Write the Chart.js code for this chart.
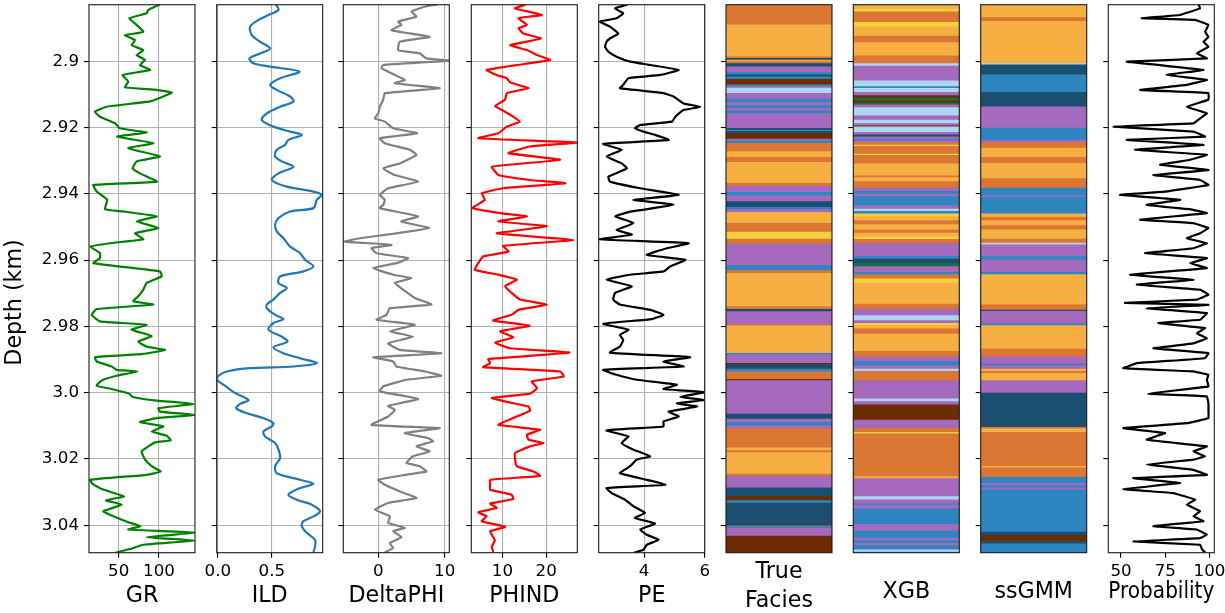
<!DOCTYPE html>
<html lang="en">
<head>
<meta charset="utf-8">
<title>well logs and facies</title>
<script src="https://cdn.jsdelivr.net/npm/chart.js@4.4.0/dist/chart.umd.min.js"></script>
<style>
body { margin: 0; background: #fff; }
#wrap { position: relative; width: 1225px; height: 613px; overflow: hidden; }
#wrap canvas { position: absolute; top: 0; }
</style>
</head>
<body>
<div id="wrap"></div>
<script>
// depth axis (km)
const depthMin = 2.8829, depthMax = 3.0483;
const depthTicks = [2.90, 2.92, 2.94, 2.96, 2.98, 3.00, 3.02, 3.04];
const depthTickLabels = ['2.9', '2.92', '2.94', '2.96', '2.98', '3.0', '3.02', '3.04'];
const depthTitle = 'Depth (km)';

// log curves: [depth, value]
const grLog = [[2.8829,100.5],[2.8845,86.8],[2.8855,84.7],[2.8870,63.2],[2.8890,72.3],[2.8911,80.6],[2.8921,57.9],[2.8936,70.3],[2.8951,66.1],[2.8966,80.6],[2.8981,72.3],[2.8996,82.7],[2.9011,76.5],[2.9026,88.9],[2.9041,55.0],[2.9061,62.0],[2.9078,57.9],[2.9086,97.2],[2.9094,115.8],[2.9106,105.4],[2.9121,88.9],[2.9137,35.1],[2.9152,20.6],[2.9167,26.8],[2.9187,45.5],[2.9202,51.7],[2.9215,84.7],[2.9227,48.3],[2.9247,93.0],[2.9262,62.0],[2.9287,101.3],[2.9302,72.3],[2.9323,67.4],[2.9338,76.5],[2.9363,97.2],[2.9373,18.6],[2.9393,22.7],[2.9418,35.9],[2.9446,33.0],[2.9453,55.8],[2.9468,97.2],[2.9483,72.3],[2.9503,99.2],[2.9519,70.3],[2.9537,80.6],[2.9549,39.2],[2.9559,15.3],[2.9579,26.8],[2.9594,26.8],[2.9609,18.6],[2.9634,101.3],[2.9649,103.4],[2.9669,84.7],[2.9689,80.6],[2.9709,74.4],[2.9724,68.2],[2.9734,93.0],[2.9748,22.7],[2.9765,16.5],[2.9785,26.8],[2.9795,84.7],[2.9810,66.1],[2.9829,90.9],[2.9846,74.4],[2.9861,84.7],[2.9871,107.5],[2.9883,80.6],[2.9893,20.6],[2.9906,22.7],[2.9921,41.3],[2.9931,47.5],[2.9936,73.2],[2.9949,47.5],[2.9963,28.9],[2.9979,22.7],[2.9989,41.3],[3.0003,63.2],[3.0013,67.4],[3.0024,97.2],[3.0034,142.6],[3.0047,99.2],[3.0057,101.3],[3.0067,144.7],[3.0077,97.2],[3.0089,76.5],[3.0102,105.4],[3.0117,90.9],[3.0130,109.6],[3.0144,114.5],[3.0150,95.1],[3.0177,78.5],[3.0202,82.7],[3.0222,90.9],[3.0238,102.1],[3.0248,84.7],[3.0263,14.4],[3.0275,17.7],[3.0291,28.9],[3.0313,56.6],[3.0325,34.3],[3.0338,53.7],[3.0358,31.0],[3.0373,43.4],[3.0391,62.0],[3.0403,77.3],[3.0413,62.0],[3.0423,144.7],[3.0436,84.7],[3.0446,144.7],[3.0459,80.6],[3.0472,64.1],[3.0482,47.5]];

const ildLog = [[2.8829,0.540],[2.8845,0.562],[2.8860,0.469],[2.8875,0.377],[2.8895,0.299],[2.8921,0.315],[2.8941,0.392],[2.8961,0.485],[2.8976,0.392],[2.8991,0.293],[2.9006,0.330],[2.9016,0.485],[2.9031,0.756],[2.9051,0.577],[2.9071,0.485],[2.9086,0.546],[2.9106,0.670],[2.9121,0.701],[2.9137,0.577],[2.9157,0.454],[2.9177,0.407],[2.9197,0.515],[2.9212,0.670],[2.9222,0.778],[2.9237,0.654],[2.9252,0.623],[2.9267,0.546],[2.9287,0.531],[2.9302,0.593],[2.9318,0.701],[2.9338,0.562],[2.9358,0.500],[2.9378,0.639],[2.9393,0.886],[2.9403,0.963],[2.9418,0.917],[2.9443,0.886],[2.9453,0.670],[2.9473,0.562],[2.9493,0.531],[2.9513,0.546],[2.9534,0.608],[2.9559,0.670],[2.9579,0.762],[2.9599,0.809],[2.9619,0.886],[2.9634,0.793],[2.9649,0.577],[2.9669,0.562],[2.9684,0.639],[2.9699,0.577],[2.9719,0.515],[2.9734,0.454],[2.9745,0.454],[2.9765,0.531],[2.9778,0.608],[2.9790,0.515],[2.9810,0.469],[2.9831,0.593],[2.9846,0.645],[2.9863,0.515],[2.9881,0.608],[2.9896,0.762],[2.9911,0.917],[2.9921,0.701],[2.9926,0.299],[2.9936,0.083],[2.9949,0.006],[2.9961,-0.009],[2.9976,0.052],[2.9989,0.108],[3.0001,0.160],[3.0022,0.284],[3.0034,0.207],[3.0047,0.170],[3.0062,0.269],[3.0077,0.423],[3.0092,0.515],[3.0102,0.500],[3.0117,0.423],[3.0132,0.438],[3.0152,0.531],[3.0172,0.562],[3.0197,0.577],[3.0222,0.531],[3.0243,0.546],[3.0263,0.762],[3.0275,0.886],[3.0288,0.762],[3.0308,0.654],[3.0323,0.731],[3.0338,0.870],[3.0358,0.948],[3.0371,0.901],[3.0388,0.793],[3.0403,0.778],[3.0423,0.824],[3.0444,0.901],[3.0464,0.901],[3.0482,0.886]];

const dphiLog = [[2.8829,8.75],[2.8835,7.0],[2.8850,5.0],[2.8865,5.75],[2.8880,3.0],[2.8890,3.5],[2.8906,2.0],[2.8926,7.75],[2.8941,3.25],[2.8966,3.0],[2.8976,6.25],[2.8991,7.25],[2.8998,10.65],[2.9011,0.75],[2.9021,0.5],[2.9036,2.0],[2.9056,4.0],[2.9066,2.5],[2.9081,9.25],[2.9096,1.0],[2.9116,0.75],[2.9137,0.25],[2.9157,0],[2.9172,-0.5],[2.9182,1.0],[2.9202,2.25],[2.9217,5.85],[2.9232,0.25],[2.9247,1.0],[2.9267,4.75],[2.9282,5.75],[2.9308,3.25],[2.9323,0.75],[2.9343,2.5],[2.9363,6.0],[2.9383,1.5],[2.9403,0.25],[2.9418,1.0],[2.9433,0.75],[2.9443,0.25],[2.9468,6.0],[2.9483,3.5],[2.9503,7.65],[2.9519,2.75],[2.9534,-2.75],[2.9544,-5.0],[2.9554,2.0],[2.9564,-1.0],[2.9579,-0.25],[2.9594,4.5],[2.9609,2.75],[2.9624,-0.75],[2.9644,2.25],[2.9654,5.0],[2.9669,2.5],[2.9689,3.75],[2.9714,5.5],[2.9734,8.0],[2.9745,1.75],[2.9765,1.25],[2.9780,-0.25],[2.9795,5.5],[2.9815,1.75],[2.9831,5.25],[2.9851,1.5],[2.9871,3.25],[2.9881,9.5],[2.9893,-0.75],[2.9906,2.25],[2.9921,2.75],[2.9936,7.0],[2.9949,9.5],[2.9961,4.25],[2.9981,0.75],[2.9996,0.25],[3.0019,6.0],[3.0040,1.5],[3.0052,2.5],[3.0072,1.5],[3.0097,-1.0],[3.0107,9.25],[3.0122,4.0],[3.0137,7.5],[3.0147,8.25],[3.0162,5.75],[3.0177,7.75],[3.0192,5.25],[3.0212,4.25],[3.0222,6.25],[3.0238,7.25],[3.0248,4.0],[3.0263,0],[3.0278,1.0],[3.0298,3.25],[3.0318,5.75],[3.0333,1.5],[3.0353,-0.5],[3.0373,1.75],[3.0393,1.5],[3.0408,4.0],[3.0418,2.25],[3.0436,3.5],[3.0454,1.75],[3.0469,2.25],[3.0482,1.0]];

const phindLog = [[2.8829,15.2],[2.8840,12.9],[2.8860,19.0],[2.8870,13.7],[2.8890,15.6],[2.8900,13.7],[2.8916,14.8],[2.8931,18.8],[2.8951,11.8],[2.8966,15.6],[2.8981,17.9],[2.8996,20.9],[2.9011,13.3],[2.9026,6.4],[2.9041,8.7],[2.9051,11.0],[2.9064,11.8],[2.9081,16.0],[2.9096,11.0],[2.9116,10.6],[2.9135,8.3],[2.9152,10.6],[2.9167,12.5],[2.9182,14.0],[2.9197,11.0],[2.9217,9.1],[2.9232,4.5],[2.9245,27.0],[2.9257,16.3],[2.9277,11.4],[2.9297,23.2],[2.9318,7.6],[2.9343,9.1],[2.9358,16.3],[2.9368,24.4],[2.9383,10.2],[2.9398,5.3],[2.9418,6.0],[2.9443,3.2],[2.9458,9.5],[2.9468,15.6],[2.9483,9.1],[2.9498,20.2],[2.9519,8.7],[2.9539,26.1],[2.9557,10.2],[2.9574,11.4],[2.9589,5.6],[2.9609,4.5],[2.9629,3.7],[2.9644,9.1],[2.9659,13.3],[2.9679,10.6],[2.9699,12.1],[2.9719,14.0],[2.9734,20.2],[2.9750,13.7],[2.9765,12.1],[2.9782,7.9],[2.9798,16.2],[2.9815,9.5],[2.9833,12.5],[2.9849,8.3],[2.9866,11.8],[2.9879,25.3],[2.9899,6.8],[2.9911,7.2],[2.9923,5.6],[2.9936,23.2],[2.9951,24.0],[2.9966,16.7],[2.9986,17.9],[3.0003,16.3],[3.0016,7.6],[3.0032,12.5],[3.0042,16.0],[3.0054,16.3],[3.0074,12.9],[3.0097,9.1],[3.0112,18.6],[3.0127,15.6],[3.0142,16.0],[3.0152,19.4],[3.0162,16.3],[3.0182,12.9],[3.0202,12.9],[3.0222,13.3],[3.0238,17.1],[3.0251,18.6],[3.0263,7.2],[3.0278,7.2],[3.0293,7.2],[3.0308,12.1],[3.0321,12.5],[3.0335,7.2],[3.0348,8.7],[3.0361,4.5],[3.0373,6.4],[3.0388,5.3],[3.0405,10.6],[3.0418,7.2],[3.0436,7.9],[3.0446,8.3],[3.0464,7.6],[3.0482,7.9]];

const peLog = [[2.8829,3.43],[2.8840,3.04],[2.8855,3.31],[2.8870,3.09],[2.8880,2.54],[2.8895,2.87],[2.8916,3.15],[2.8931,2.87],[2.8941,2.76],[2.8956,2.71],[2.8971,2.82],[2.8986,3.09],[2.9001,3.54],[2.9011,4.20],[2.9026,5.14],[2.9041,4.53],[2.9051,3.48],[2.9071,3.31],[2.9081,3.20],[2.9096,4.64],[2.9106,4.97],[2.9127,5.30],[2.9137,5.86],[2.9147,5.30],[2.9167,5.03],[2.9182,4.92],[2.9192,3.87],[2.9202,3.70],[2.9212,3.98],[2.9222,4.36],[2.9237,4.81],[2.9249,2.65],[2.9267,3.26],[2.9287,2.76],[2.9308,3.26],[2.9323,3.43],[2.9348,2.82],[2.9363,2.87],[2.9383,3.87],[2.9403,5.14],[2.9418,3.65],[2.9433,4.97],[2.9453,3.59],[2.9468,3.04],[2.9488,3.65],[2.9509,3.09],[2.9523,3.59],[2.9537,2.54],[2.9549,5.47],[2.9564,4.75],[2.9584,4.09],[2.9599,5.36],[2.9619,4.86],[2.9634,4.64],[2.9644,3.54],[2.9659,2.76],[2.9679,3.59],[2.9699,3.04],[2.9719,2.98],[2.9734,3.20],[2.9750,4.20],[2.9765,4.64],[2.9778,4.25],[2.9792,2.65],[2.9810,3.48],[2.9826,3.20],[2.9841,3.31],[2.9861,3.20],[2.9879,2.87],[2.9893,5.52],[2.9906,4.64],[2.9921,5.30],[2.9931,2.65],[2.9946,3.09],[2.9961,3.76],[2.9976,5.08],[2.9989,4.64],[2.9999,5.97],[3.0013,5.19],[3.0022,6.0],[3.0032,5.08],[3.0042,5.75],[3.0057,4.81],[3.0072,5.14],[3.0087,4.64],[3.0102,4.64],[3.0114,2.76],[3.0132,3.48],[3.0152,3.26],[3.0172,3.65],[3.0192,4.20],[3.0202,3.76],[3.0222,3.54],[3.0243,3.20],[3.0263,4.09],[3.0278,4.70],[3.0288,2.76],[3.0303,2.93],[3.0323,3.37],[3.0343,3.65],[3.0363,4.03],[3.0378,3.70],[3.0395,4.36],[3.0413,3.87],[3.0429,4.09],[3.0444,4.48],[3.0459,4.09],[3.0474,3.98],[3.0482,3.70]];

const probLog = [[2.8829,93.8],[2.8840,94.7],[2.8860,83.4],[2.8870,61.7],[2.8875,91.9],[2.8890,99.4],[2.8911,97.5],[2.8926,99.4],[2.8941,96.6],[2.8956,99.4],[2.8976,92.8],[2.8991,98.5],[2.9001,53.2],[2.9016,79.6],[2.9026,96.6],[2.9041,75.8],[2.9056,98.5],[2.9071,87.2],[2.9086,60.8],[2.9096,99.4],[2.9116,99.4],[2.9137,87.2],[2.9157,98.5],[2.9172,94.7],[2.9187,90.9],[2.9197,45.7],[2.9212,90.9],[2.9227,97.5],[2.9237,53.2],[2.9252,96.6],[2.9267,57.9],[2.9282,98.5],[2.9297,89.1],[2.9312,72.1],[2.9328,99.4],[2.9343,68.3],[2.9358,94.7],[2.9373,99.4],[2.9393,74.9],[2.9403,49.4],[2.9418,83.4],[2.9433,64.5],[2.9448,90.9],[2.9458,98.5],[2.9478,60.8],[2.9488,90.9],[2.9503,99.4],[2.9519,94.7],[2.9534,87.2],[2.9549,98.5],[2.9564,90.9],[2.9579,63.6],[2.9594,98.5],[2.9609,89.1],[2.9624,98.5],[2.9644,55.1],[2.9659,90.9],[2.9674,58.9],[2.9689,94.7],[2.9704,99.4],[2.9719,92.8],[2.9729,52.3],[2.9735,99.4],[2.9745,64.5],[2.9760,98.5],[2.9780,94.7],[2.9790,71.1],[2.9805,97.5],[2.9821,92.8],[2.9836,98.5],[2.9851,90.9],[2.9866,68.3],[2.9881,99.4],[2.9896,97.5],[2.9911,58.9],[2.9926,51.3],[2.9936,90.9],[2.9946,99.4],[2.9961,98.5],[2.9981,99.4],[3.0003,65.5],[3.0011,98.5],[3.0032,99.4],[3.0052,99.4],[3.0077,99.4],[3.0092,87.2],[3.0107,51.3],[3.0122,74.9],[3.0142,64.5],[3.0162,98.5],[3.0177,90.9],[3.0192,97.5],[3.0202,90.9],[3.0217,64.5],[3.0233,90.9],[3.0248,98.5],[3.0258,56.9],[3.0273,83.4],[3.0291,51.3],[3.0303,79.6],[3.0323,91.9],[3.0338,87.2],[3.0358,94.7],[3.0373,90.9],[3.0388,96.6],[3.0403,68.3],[3.0413,92.8],[3.0429,98.5],[3.0439,94.7],[3.0449,56.9],[3.0459,94.7],[3.0472,95.7],[3.0482,97.5]];

// facies: 1 SS, 2 CSiS, 3 FSiS, 4 SiSh, 5 MS, 6 WS, 7 D, 8 PS, 9 BS
const faciesColors = ['#F4D03F', '#F5B041', '#DC7633', '#6E2C00', '#1B4F72', '#2E86C1', '#AED6F1', '#A569BD', '#196F3D'];

// band tops (km) and facies code of each band
const trueTop = [2.8829,2.8887,2.8984,2.8988,2.8994,2.8998,2.9004,2.9014,2.9031,2.9038,2.9044,2.9052,2.9068,2.9074,2.9078,2.9094,2.9111,2.9122,2.9132,2.9139,2.9147,2.9155,2.9200,2.9205,2.9209,2.9215,2.9232,2.9237,2.9245,2.9270,2.9287,2.9302,2.9366,2.9374,2.9393,2.9403,2.9421,2.9438,2.9445,2.9453,2.9486,2.9513,2.9534,2.9549,2.9614,2.9629,2.9637,2.9738,2.9746,2.9753,2.9792,2.9796,2.9879,2.9883,2.9909,2.9913,2.9926,2.9934,2.9957,2.9961,3.0062,3.0077,3.0087,3.0097,3.0105,3.0164,3.0172,3.0178,3.0243,3.0249,3.0285,3.0311,3.0323,3.0331,3.0395,3.0399,3.0406,3.0430];
const trueCode = [3,2,3,5,2,3,5,8,6,5, 6,4,6,8,7,8,6,8,6,8, 6,8,5,6,5,4,8,6,3,2, 3,2,3,8,6,8,5,6,8,2, 3,1,3,8,6,3,2,3,5,8, 3,2,6,8,4,5,6,3,4,8, 5,8,6,8,3,2,3,2,3,8, 5,4,6,5,4,6,8,4];

const xgbTop = [2.8829,2.8840,2.8848,2.8880,2.8893,2.8921,2.8941,2.8981,2.9004,2.9012,2.9056,2.9074,2.9079,2.9091,2.9101,2.9108,2.9117,2.9123,2.9129,2.9137,2.9162,2.9175,2.9185,2.9192,2.9195,2.9212,2.9219,2.9225,2.9233,2.9237,2.9242,2.9250,2.9254,2.9277,2.9281,2.9307,2.9343,2.9348,2.9360,2.9380,2.9390,2.9398,2.9406,2.9433,2.9443,2.9450,2.9458,2.9466,2.9478,2.9490,2.9506,2.9516,2.9527,2.9535,2.9547,2.9587,2.9594,2.9607,2.9617,2.9634,2.9641,2.9654,2.9667,2.9730,2.9745,2.9765,2.9780,2.9788,2.9795,2.9805,2.9821,2.9873,2.9889,2.9904,2.9916,2.9926,2.9933,2.9961,3.0016,3.0024,3.0034,3.0080,3.0104,3.0117,3.0122,3.0251,3.0257,3.0311,3.0321,3.0333,3.0337,3.0348,3.0395,3.0415,3.0436,3.0444,3.0452,3.0459,3.0472,3.0479];
const xgbCode = [2,1,3,1,2,3,2,3,7,8, 7,6,7,8,4,9,4,9,8,7, 8,7,8,4,7,8,5,8,6,8, 3,1,3,1,3,2,3,2,3,8, 6,8,6,8,7,6,1,2,3,2, 3,2,1,3,8,6,5,9,8,6, 3,1,2,3,8,7,8,1,2,3, 2,3,8,6,8,7,3,8,7,8, 4,8,3,1,3,2,8,7,8,6, 8,6,8,6,8,6,8,6,7,6];

const gmmTop = [2.8829,2.8865,2.8877,2.9004,2.9008,2.9038,2.9091,2.9135,2.9199,2.9235,2.9242,2.9259,2.9287,2.9305,2.9351,2.9380,2.9403,2.9408,2.9458,2.9468,2.9478,2.9493,2.9506,2.9534,2.9546,2.9551,2.9587,2.9597,2.9634,2.9641,2.9732,2.9748,2.9752,2.9790,2.9795,2.9866,2.9889,2.9911,2.9916,2.9926,2.9933,2.9939,2.9961,2.9999,3.0102,3.0107,3.0117,3.0220,3.0224,3.0253,3.0271,3.0278,3.0285,3.0291,3.0418,3.0429,3.0446,3.0454];
const gmmCode = [2,3,2,7,5,6,5,8,6,8, 3,2,3,2,3,6,8,6,2,3, 2,3,2,3,7,8,6,8,6,2, 3,5,8,6,2,3,8,6,8,2, 3,2,8,5,3,2,3,2,3,6, 8,6,8,6,5,4,5,6];

// layout of the nine tracks (px)
const panelLeft = [89, 216.7, 343.3, 471.3, 598.7, 726, 853.3, 980.7, 1108.3];
const panelWidth = 106, plotTop = 4.7, plotBottom = 552.7, canvasH = 640;
const tickSize = 16.7, titleSize = 22.2;
const gridColor = '#b0b0b0';

Chart.defaults.font.family = "'DejaVu Sans', sans-serif";
Chart.defaults.color = '#000';

const frame = {
  id: 'frame',
  afterDraw(chart) {
    const a = chart.chartArea, ctx = chart.ctx;
    ctx.save();
    ctx.strokeStyle = '#1a1a1a';
    ctx.lineWidth = 1.1;
    ctx.strokeRect(a.left, a.top, a.right - a.left, a.bottom - a.top);
    ctx.restore();
  }
};

const depthLabel = {
  id: 'depthLabel',
  afterDraw(chart) {
    const ctx = chart.ctx;
    ctx.save();
    ctx.translate(15.5, 302.5);
    ctx.rotate(-Math.PI / 2);
    ctx.font = titleSize + "px 'DejaVu Sans'";
    ctx.fillStyle = '#000';
    ctx.textAlign = 'center';
    ctx.textBaseline = 'middle';
    ctx.fillText(depthTitle, 0, 0);
    ctx.restore();
  }
};

const wrap = document.getElementById('wrap');

function makeCanvas(i) {
  const left = i === 0 ? 0 : Math.floor(panelLeft[i]) - 24;
  const L = panelLeft[i] - left;
  const w = Math.ceil(L + panelWidth + 30);
  const c = document.createElement('canvas');
  c.width = w; c.height = canvasH;
  c.style.left = left + 'px';
  c.style.width = w + 'px';
  c.style.height = canvasH + 'px';
  wrap.appendChild(c);
  return { c, L, R: w - L - panelWidth };
}

function yAxis(L, showLabels, gridOn) {
  return {
    type: 'linear', reverse: true, min: depthMin, max: depthMax,
    afterBuildTicks: s => { s.ticks = depthTicks.map(v => ({ value: v })); },
    afterFit: s => { s.width = L; s.paddingTop = 0; s.paddingBottom = 0; },
    ticks: { display: showLabels, font: { size: tickSize }, padding: 5, callback: (v, k) => depthTickLabels[k] },
    grid: { drawOnChartArea: gridOn, color: gridColor, lineWidth: 1.1, tickLength: 5, tickColor: '#000', tickWidth: 1.1 },
    border: { display: false }
  };
}

function xTitle(text, pad, lh) {
  return { display: true, text: text, color: '#000', font: { size: titleSize, lineHeight: lh || 1.2 }, padding: { top: 0, bottom: pad } };
}

function logPanel(i, log, color, opt) {
  const { c, L, R } = makeCanvas(i);
  new Chart(c, {
    type: 'scatter',
    data: {
      datasets: [{
        data: log.map(p => ({ x: p[1], y: p[0] })),
        showLine: true, borderColor: color, borderWidth: 2.2,
        pointRadius: 0, pointHoverRadius: 0, tension: opt.tension || 0.12,
        borderJoinStyle: 'round', borderCapStyle: 'round'
      }]
    },
    options: {
      responsive: false, animation: false, events: [],
      layout: { padding: { top: plotTop, right: R, bottom: 0, left: 0 } },
      plugins: { legend: { display: false }, tooltip: { enabled: false } },
      scales: {
        x: {
          type: 'linear', min: opt.min, max: opt.max,
          afterBuildTicks: s => { s.ticks = opt.ticks.map(v => ({ value: v })); },
          afterFit: s => { s.height = canvasH - plotBottom; s.paddingLeft = 0; s.paddingRight = 0; },
          ticks: { autoSkip: false, maxRotation: 0, font: { size: tickSize }, padding: 4, callback: (v, k) => opt.labels[k] },
          grid: { drawOnChartArea: opt.grid, color: gridColor, lineWidth: 1.1, tickLength: 5, tickColor: '#000', tickWidth: 1.1 },
          border: { display: false },
          title: xTitle(opt.title, opt.pad)
        },
        y: yAxis(L, i === 0, opt.grid)
      }
    },
    plugins: i === 0 ? [frame, depthLabel] : [frame]
  });
}

function faciesPanel(i, tops, codes, title, pad, lh) {
  const { c, L, R } = makeCanvas(i);
  const datasets = tops.map((t, j) => ({
    data: [[t, j + 1 < tops.length ? tops[j + 1] : depthMax]],
    backgroundColor: faciesColors[codes[j] - 1],
    borderWidth: 0, barPercentage: 1, categoryPercentage: 1, grouped: false, inflateAmount: 0.5
  }));
  new Chart(c, {
    type: 'bar',
    data: { labels: [''], datasets },
    options: {
      responsive: false, animation: false, events: [],
      layout: { padding: { top: plotTop, right: R, bottom: 0, left: 0 } },
      plugins: { legend: { display: false }, tooltip: { enabled: false } },
      scales: {
        x: {
          type: 'category', offset: true,
          afterFit: s => { s.height = canvasH - plotBottom; s.paddingLeft = 0; s.paddingRight = 0; },
          ticks: { display: false }, grid: { display: false }, border: { display: false },
          title: xTitle(title, pad, lh)
        },
        y: Object.assign(yAxis(L, false, false), { beginAtZero: false })
      }
    },
    plugins: [frame]
  });
}

logPanel(0, grLog, '#008000', { min: 13.2, max: 144.7, ticks: [50, 100], labels: ['50', '100'], grid: true, title: 'GR', pad: 30.2 });
logPanel(1, ildLog, '#1f77b4', { min: -0.011, max: 0.972, ticks: [0, 0.5], labels: ['0.0', '0.5'], grid: true, title: 'ILD', pad: 30.2, tension: 0.3 });
logPanel(2, dphiLog, '#808080', { min: -5.25, max: 10.7, ticks: [0, 10], labels: ['0', '10'], grid: true, title: 'DeltaPHI', pad: 30.2 });
logPanel(3, phindLog, '#ff0000', { min: 2.9, max: 27.1, ticks: [10, 20], labels: ['10', '20'], grid: true, title: 'PHIND', pad: 30.2 });
logPanel(4, peLog, '#000000', { min: 2.5, max: 6.0, ticks: [4, 6], labels: ['4', '6'], grid: true, title: 'PE', pad: 30.2 });
faciesPanel(5, trueTop, trueCode, ['True', 'Facies'], 24.85, 1.275);
faciesPanel(6, xgbTop, xgbCode, 'XGB', 34.2);
faciesPanel(7, gmmTop, gmmCode, 'ssGMM', 34.2);
logPanel(8, probLog, '#000000', { min: 42.8, max: 102.7, ticks: [50, 75, 100], labels: ['50', '75', '100'], grid: false, title: 'Probability', pad: 34.2, tension: 0.05 });
</script>
</body>
</html>
